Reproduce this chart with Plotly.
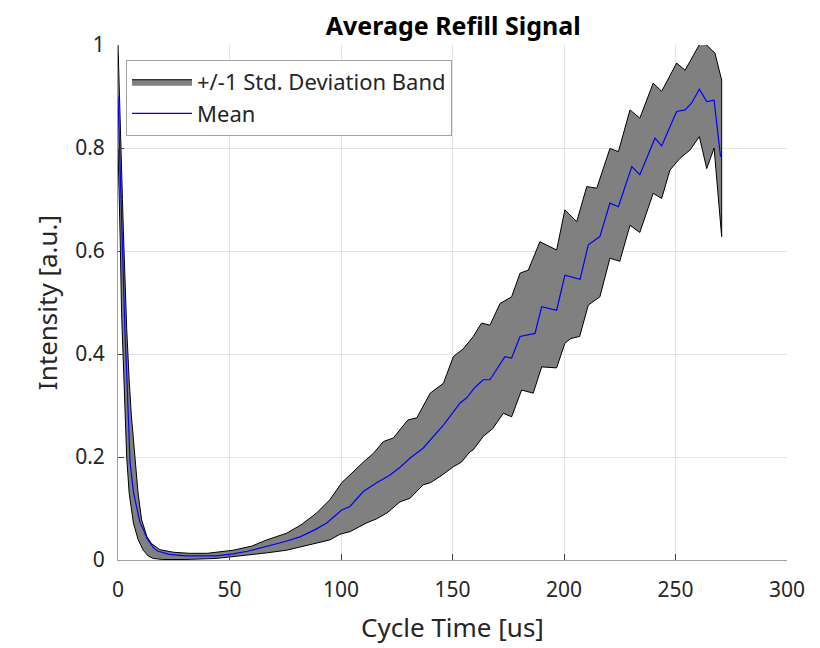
import plotly.graph_objects as go

# values
upper_x = [0, 1, 2, 2.4, 3, 3.9, 5, 6, 7.6, 9, 10.6, 13, 15, 18.8, 25, 32, 40, 51.6,
           60, 66.7, 75.6, 82, 89, 95, 100.3, 105, 110, 114.5, 119, 123.5, 130, 134,
           140, 145.9, 150.4, 154.8, 159.3, 163, 166.8, 171.3, 176.5, 180.3, 184,
           189.2, 196.7, 200.4, 205.7, 210.2, 214.7, 220.6, 224.4, 229.6, 234, 240,
           243.8, 250.5, 254.3, 261, 264, 267.7, 270.7]
upper_y = [1.0, 0.87, 0.7, 0.64, 0.55, 0.45, 0.35, 0.28, 0.2, 0.13, 0.078, 0.045, 0.032,
           0.02, 0.015, 0.013, 0.013, 0.019, 0.027, 0.039, 0.052, 0.068, 0.091, 0.117,
           0.15, 0.17, 0.19, 0.207, 0.23, 0.237, 0.272, 0.276, 0.324, 0.343, 0.395,
           0.41, 0.434, 0.46, 0.456, 0.498, 0.511, 0.557, 0.563, 0.618, 0.602, 0.68,
           0.657, 0.725, 0.722, 0.799, 0.793, 0.874, 0.858, 0.926, 0.91, 0.965, 0.951,
           1.003, 1.0, 0.984, 0.932]

lower_x = [0, 1, 1.6, 2.5, 3.9, 5, 6.9, 9, 11.3, 13.5, 15.8, 20, 30, 44, 52, 59, 67,
           75.6, 82, 89, 95, 99.5, 104, 111.5, 116, 120.5, 126.5, 131, 136.8, 140,
           144.4, 150.4, 154, 157.8, 159.3, 163.8, 168, 172.8, 176.5, 181, 186.2, 190,
           196.7, 200.4, 203, 207, 210.9, 216.1, 220.6, 225, 229.6, 234, 240, 243.8,
           247.5, 252, 256.5, 260.7, 264, 267.3, 270.7]
lower_y = [0.8, 0.62, 0.48, 0.35, 0.2, 0.13, 0.072, 0.04, 0.019, 0.008, 0.003, 0.001,
           0.001, 0.003, 0.006, 0.01, 0.014, 0.019, 0.025, 0.033, 0.039, 0.05, 0.055,
           0.072, 0.08, 0.091, 0.113, 0.12, 0.146, 0.15, 0.162, 0.181, 0.19, 0.21,
           0.214, 0.24, 0.255, 0.285, 0.278, 0.33, 0.324, 0.375, 0.373, 0.421, 0.43,
           0.434, 0.495, 0.511, 0.586, 0.58, 0.65, 0.636, 0.712, 0.702, 0.757, 0.78,
           0.796, 0.822, 0.76, 0.80, 0.628]

mean_x = [0, 1, 2, 3.1, 4, 5.4, 7, 9.9, 11.3, 13, 15.8, 18, 23, 30, 44, 51.6, 58, 66.7,
          75, 81.6, 88, 93.6, 100.3, 104, 110, 116, 122, 126.5, 131, 136.8, 141, 145.9,
          150, 153.4, 156.4, 160, 163.8, 166.8, 173.5, 176.5, 180.3, 187, 190, 196.7,
          200.4, 207.2, 210.9, 216.1, 220.6, 224.4, 230.4, 234, 240.8, 243.8, 250.5,
          254.3, 257.2, 260.7, 264, 267.3, 270.2]
mean_y = [0.9, 0.74, 0.6, 0.447, 0.35, 0.19, 0.13, 0.072, 0.06, 0.042, 0.024, 0.017,
          0.011, 0.008, 0.008, 0.012, 0.017, 0.026, 0.036, 0.045, 0.058, 0.072, 0.097,
          0.104, 0.133, 0.15, 0.165, 0.18, 0.198, 0.217, 0.238, 0.262, 0.285, 0.305,
          0.315, 0.335, 0.35, 0.35, 0.395, 0.392, 0.434, 0.44, 0.492, 0.485, 0.553,
          0.545, 0.612, 0.628, 0.693, 0.686, 0.764, 0.748, 0.819, 0.804, 0.871, 0.874,
          0.887, 0.914, 0.89, 0.893, 0.783]

x_ticks = [0, 50, 100, 150, 200, 250, 300]
y_ticks = [0, 0.2, 0.4, 0.6, 0.8, 1]
y_labels = ["0", "0.2", "0.4", "0.6", "0.8", "1"]

font = "Noto Sans"
ink = "#262626"

fig = go.Figure()

# band polygon: upper edge forward, lower edge back
fig.add_trace(go.Scatter(
    x=upper_x + lower_x[::-1],
    y=upper_y + lower_y[::-1],
    fill="toself", fillcolor="#808080",
    line=dict(color="black", width=1),
    mode="lines",
    name="+/-1 Std. Deviation Band",
))
fig.add_trace(go.Scatter(
    x=mean_x, y=mean_y, mode="lines",
    line=dict(color="#0000ff", width=1.2),
    name="Mean",
))

axis_common = dict(
    showgrid=True, gridcolor="#e3e3e3", gridwidth=1,
    showline=True, linecolor="#a0a0a0", linewidth=1, mirror=False,
    ticks="inside", ticklen=6, tickcolor="#404040",
    tickfont=dict(family=font, size=21, color=ink),
    zeroline=False,
)

fig.update_xaxes(range=[0, 300], tickvals=x_ticks, ticklabelstandoff=11,
                 title=dict(text="Cycle Time [us]", font=dict(family=font, size=26, color=ink),
                            standoff=16),
                 **axis_common)
fig.update_yaxes(range=[0, 1], tickvals=y_ticks, ticktext=y_labels, ticklabelstandoff=8,
                 title=dict(text="Intensity [a.u.]", font=dict(family=font, size=26, color=ink),
                            standoff=10),
                 **axis_common)

fig.update_layout(
    width=820, height=648,
    margin=dict(l=110, r=41, t=37, b=96),
    plot_bgcolor="white", paper_bgcolor="white",
    title=dict(text="<b>Average Refill Signal</b>", x=0.543, xanchor="center",
               y=0.972, yanchor="middle",
               font=dict(family=font, size=25, color="black")),
    showlegend=True,
    legend=dict(x=0.012, y=0.971, xanchor="left", yanchor="top",
                bgcolor="white", bordercolor="#a0a0a0", borderwidth=1,
                font=dict(family=font, size=22, color=ink),
                itemwidth=60, tracegroupgap=0),
)

fig.write_html("out.html")
